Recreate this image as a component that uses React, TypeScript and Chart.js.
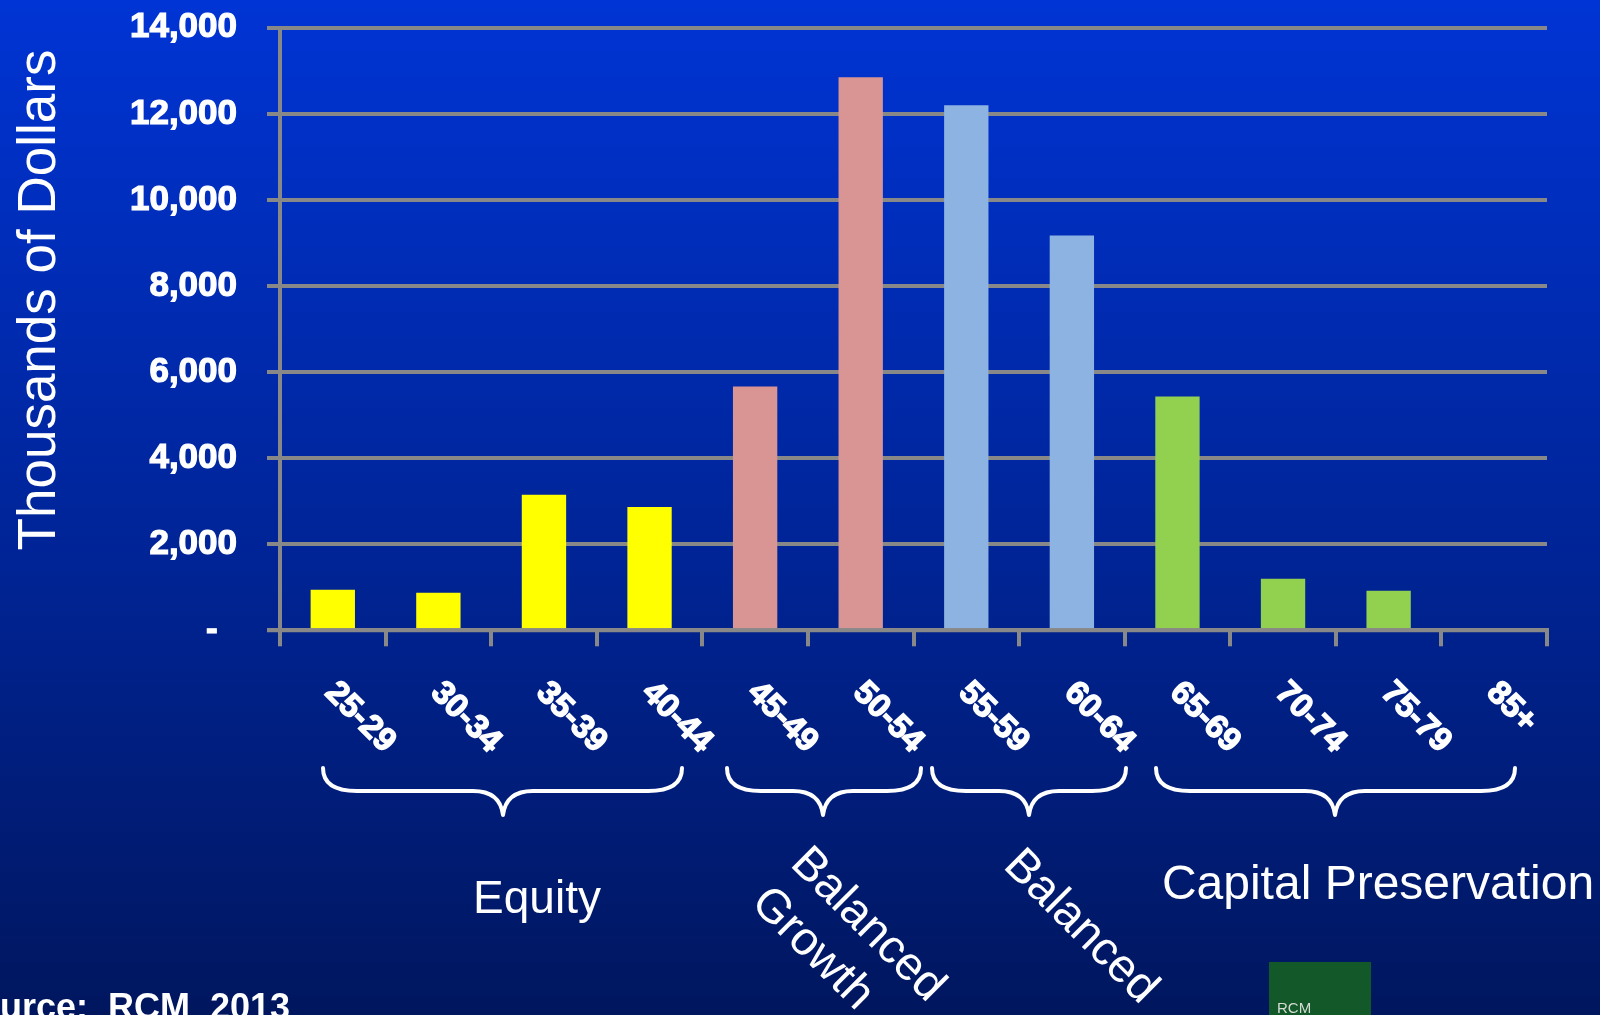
import { useEffect, useRef } from 'react';
import { Chart, registerables } from 'chart.js';

Chart.register(...registerables);

// ---- data ----
const categories = ['25-29', '30-34', '35-39', '40-44', '45-49', '50-54', '55-59', '60-64', '65-69', '70-74', '75-79', '85+'];
const values = [942, 870, 3150, 2865, 5665, 12850, 12200, 9175, 5430, 1200, 918, 0];
const yMin = 0;
const yMax = 14000;
const yStep = 2000;
const groupNames = ['Equity', 'Balanced Growth', 'Balanced', 'Capital Preservation'];
const groupOfCategory = [0, 0, 0, 0, 1, 1, 2, 2, 3, 3, 3, 3];
const yTitle = 'Thousands of Dollars';
const sourceText = 'Source:  RCM  2013';

// ---- styles ----
const groupColors = ['#FFFF00', '#D99594', '#8DB3E2', '#92D050'];
const FONT = "'Liberation Sans', Arial, sans-serif";
const GRID = '#888888';
const W = 1600;
const H = 1015;
const PLOT_TOP = 27.8;
const PLOT_BOTTOM = 630.3;

// annotation geometry (decoration only)
const braceGeom = [
  { x1: 323, x2: 682, xm: 503 },
  { x1: 727, x2: 921, xm: 823 },
  { x1: 932, x2: 1126, xm: 1029 },
  { x1: 1156, x2: 1515, xm: 1335 },
];

function drawBrace(ctx: CanvasRenderingContext2D, x1: number, x2: number, xm: number) {
  const yTop = 768;
  const yMid = 791;
  const yTip = 815;
  const r = 34;
  const c = 30;
  ctx.beginPath();
  ctx.moveTo(x1, yTop);
  ctx.quadraticCurveTo(x1, yMid, x1 + r, yMid);
  ctx.lineTo(xm - c, yMid);
  ctx.quadraticCurveTo(xm - 3, yMid, xm, yTip);
  ctx.quadraticCurveTo(xm + 3, yMid, xm + c, yMid);
  ctx.lineTo(x2 - r, yMid);
  ctx.quadraticCurveTo(x2, yMid, x2, yTop);
  ctx.strokeStyle = '#ffffff';
  ctx.lineWidth = 4;
  ctx.lineCap = 'round';
  ctx.lineJoin = 'round';
  ctx.stroke();
}

const decorPlugin = {
  id: 'decor',
  beforeDraw(chart: any) {
    const ctx = chart.ctx as CanvasRenderingContext2D;
    ctx.save();
    const g = ctx.createLinearGradient(0, 0, 0, H);
    g.addColorStop(0, 'rgb(0,52,212)');
    g.addColorStop(0.55, 'rgb(0,36,150)');
    g.addColorStop(1, 'rgb(0,22,94)');
    ctx.fillStyle = g;
    ctx.fillRect(0, 0, W, H);
    ctx.restore();
  },
  afterDatasetsDraw(chart: any) {
    const ctx = chart.ctx as CanvasRenderingContext2D;
    const y0 = chart.scales.y.getPixelForValue(0);
    ctx.save();
    ctx.strokeStyle = GRID;
    ctx.lineWidth = 4;
    ctx.beginPath();
    ctx.moveTo(chart.chartArea.left - 13, y0);
    ctx.lineTo(chart.chartArea.right, y0);
    ctx.stroke();
    ctx.restore();
  },
  afterDraw(chart: any) {
    const ctx = chart.ctx as CanvasRenderingContext2D;
    const xs = chart.scales.x;
    ctx.save();
    ctx.fillStyle = '#ffffff';
    ctx.strokeStyle = '#ffffff';

    // rotated category labels
    ctx.font = `bold 33px ${FONT}`;
    ctx.textAlign = 'left';
    ctx.textBaseline = 'alphabetic';
    ctx.lineWidth = 1.4;
    categories.forEach((lab, i) => {
      const x = xs.getPixelForValue(i) - 9;
      ctx.save();
      ctx.translate(x, 694);
      ctx.rotate(Math.PI / 4);
      ctx.fillText(lab, 0, 0);
      ctx.strokeText(lab, 0, 0);
      ctx.restore();
    });

    // braces
    braceGeom.forEach((b) => drawBrace(ctx, b.x1, b.x2, b.xm));

    // group names
    ctx.fillStyle = '#ffffff';
    ctx.textAlign = 'center';
    ctx.font = `46px ${FONT}`;
    ctx.fillText(groupNames[0], 537, 913);
    ctx.font = `48px ${FONT}`;
    ctx.fillText(groupNames[3], 1378, 899);

    ctx.textAlign = 'left';
    ctx.font = `47px ${FONT}`;
    const bgWords = groupNames[1].split(' ');
    ctx.save();
    ctx.translate(789, 865);
    ctx.rotate(Math.PI / 4);
    ctx.fillText(bgWords[0], 0, 0);
    ctx.fillText(bgWords[1], 0, 56);
    ctx.restore();
    ctx.save();
    ctx.translate(1002, 867);
    ctx.rotate(Math.PI / 4);
    ctx.fillText(groupNames[2], 0, 0);
    ctx.restore();

    // y title
    ctx.save();
    ctx.font = `53px ${FONT}`;
    ctx.textAlign = 'center';
    ctx.translate(55, 300);
    ctx.rotate(-Math.PI / 2);
    ctx.fillText(yTitle, 0, 0);
    ctx.restore();

    // source
    ctx.font = `bold 36px ${FONT}`;
    ctx.textAlign = 'left';
    ctx.fillText(sourceText, -46, 1019);

    // RCM logo box
    ctx.fillStyle = 'rgb(18,88,40)';
    ctx.fillRect(1269, 962, 102, 60);
    ctx.fillStyle = '#d4dcd4';
    ctx.font = `15px ${FONT}`;
    ctx.fillText('RCM', 1277, 1013);

    ctx.restore();
  },
};

export default function App() {
  const ref = useRef<HTMLCanvasElement | null>(null);

  useEffect(() => {
    document.body.style.margin = '0';
    const canvas = ref.current;
    if (!canvas) return;
    const chart = new Chart(canvas, {
      type: 'bar',
      data: {
        labels: categories,
        datasets: [
          {
            data: values,
            backgroundColor: groupOfCategory.map((g) => groupColors[g]),
            borderWidth: 0,
            barPercentage: 0.42,
            categoryPercentage: 1,
          },
        ],
      },
      options: {
        responsive: false,
        animation: false,
        devicePixelRatio: 1,
        layout: { padding: { top: 0, right: 53, left: 0, bottom: 0 } },
        plugins: { legend: { display: false }, tooltip: { enabled: false } },
        scales: {
          x: {
            type: 'category',
            offset: true,
            grid: {
              offset: true,
              drawOnChartArea: false,
              drawTicks: true,
              tickLength: 16,
              color: GRID,
              lineWidth: 4,
            },
            border: { display: true, color: GRID, width: 4 },
            ticks: { display: false },
            afterFit: (s: any) => {
              s.height = H - PLOT_BOTTOM;
            },
          },
          y: {
            min: yMin,
            max: yMax,
            ticks: {
              stepSize: yStep,
              color: '#ffffff',
              padding: 30,
              font: { family: FONT, size: 35, weight: 'bold' },
              textStrokeColor: '#ffffff',
              textStrokeWidth: 1.2,
              callback: (v: any) => (Number(v) === 0 ? '-  ' : Number(v).toLocaleString('en-US')),
            },
            grid: { color: GRID, lineWidth: 4, tickLength: 13, drawTicks: true },
            border: { display: true, color: GRID, width: 4 },
            afterFit: (s: any) => {
              s.width = 280;
              s.paddingTop = PLOT_TOP;
              s.paddingBottom = 0;
            },
          },
        },
      } as any,
      plugins: [decorPlugin],
    });
    return () => chart.destroy();
  }, []);

  return (
    <div style={{ position: 'absolute', left: 0, top: 0, width: W, height: H, overflow: 'hidden' }}>
      <canvas ref={ref} width={W} height={H} style={{ display: 'block', width: W, height: H }} />
    </div>
  );
}
